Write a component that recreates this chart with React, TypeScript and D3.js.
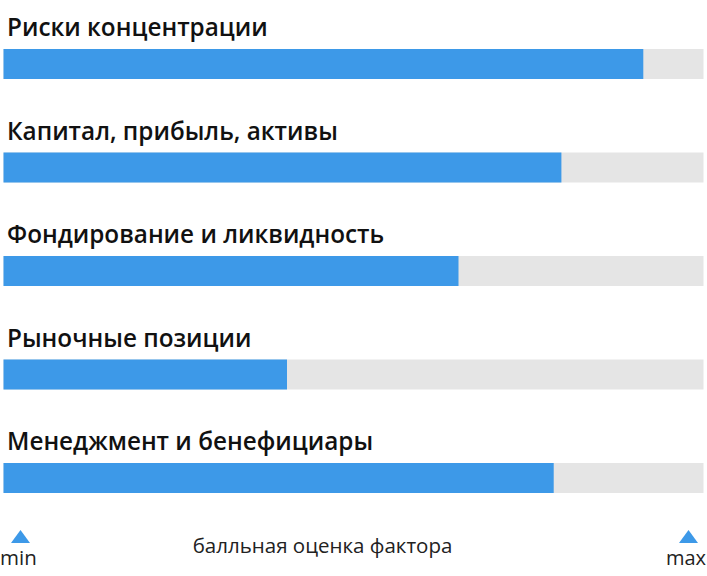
import * as d3 from "d3";

const factors = [
  "Риски концентрации",
  "Капитал, прибыль, активы",
  "Фондирование и ликвидность",
  "Рыночные позиции",
  "Менеджмент и бенефициары",
];
const scores = [0.914, 0.797, 0.65, 0.405, 0.786];
const axisTitle = "балльная оценка фактора";
const minLabel = "min";
const maxLabel = "max";

const W = 707;
const H = 576;
const BLUE = "#3d99e8";
const GREY = "#e5e5e5";
const FONT = "'Open Sans', Roboto, sans-serif";

export default function App() {
  const x = d3.scaleLinear().domain([0, 1]).range([3.5, 703.5]);
  const y = d3
    .scaleBand<string>()
    .domain(factors)
    .range([49, 49 + 103.5 * factors.length])
    .paddingInner(0);
  const barH = 30;
  // equilateral triangle flattened to ~19x13
  const tri = d3.symbol(d3.symbolTriangle, 156)();

  return (
    <svg
      width={W}
      height={H}
      style={{ position: "absolute", left: 0, top: 0 }}
      fontFamily={FONT}
    >
      {factors.map((f, i) => {
        const top = y(f) ?? 0;
        return (
          <g key={f}>
            <text x={7} y={top - 13} fontSize={24.3} fontWeight={600} fill="#111">
              {f}
            </text>
            <rect x={x(0)} y={top} width={x(1) - x(0)} height={barH} fill={GREY} />
            <rect
              x={x(0)}
              y={top}
              width={x(scores[i]) - x(0)}
              height={barH}
              fill={BLUE}
            />
          </g>
        );
      })}
      <path d={tri ?? ""} transform={`translate(${x(0) + 17},538.7) scale(1,0.79)`} fill={BLUE} />
      <path d={tri ?? ""} transform={`translate(${x(1) - 15},538.7) scale(1,0.79)`} fill={BLUE} />
      <text x={0} y={565} fontSize={20.5} fill="#222">
        {minLabel}
      </text>
      <text x={706} y={565} fontSize={20} textAnchor="end" fill="#222">
        {maxLabel}
      </text>
      <text x={322.5} y={553} fontSize={20.5} textAnchor="middle" fill="#222">
        {axisTitle}
      </text>
    </svg>
  );
}
